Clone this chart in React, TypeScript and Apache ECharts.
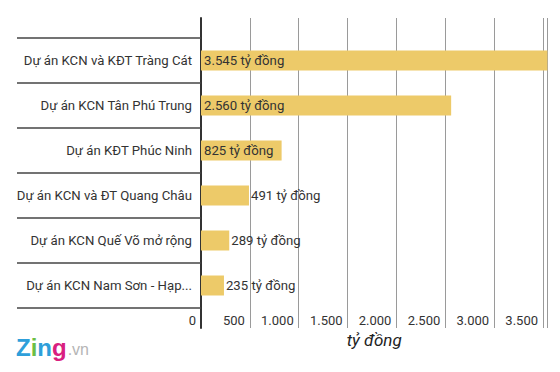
import React, { useEffect, useRef } from "react";
import * as echarts from "echarts";

const categories = [
  "Dự án KCN và KĐT Tràng Cát",
  "Dự án KCN Tân Phú Trung",
  "Dự án KĐT Phúc Ninh",
  "Dự án KCN và ĐT Quang Châu",
  "Dự án KCN Quế Võ mở rộng",
  "Dự án KCN Nam Sơn - Hạp...",
];
const values = [3545, 2560, 825, 491, 289, 235];
const valueLabels = ["3.545 tỷ đồng", "2.560 tỷ đồng", "825 tỷ đồng", "491 tỷ đồng", "289 tỷ đồng", "235 tỷ đồng"];
const insideLabel = [true, true, true, false, false, false];
const tickLabels: Record<number, string> = {
  0: "0", 500: "500", 1000: "1.000", 1500: "1.500", 2000: "2.000", 2500: "2.500", 3000: "3.000", 3500: "3.500",
};

const FONT = "Roboto, 'Noto Sans', sans-serif";

export default function App() {
  const ref = useRef<HTMLDivElement>(null);
  useEffect(() => {
    if (!ref.current) return;
    const chart = echarts.init(ref.current, undefined, { renderer: "svg" });
    const gridLeft = 201;
    const gridRight = 12.6;
    chart.setOption({
      animation: false,
      backgroundColor: "#ffffff",
      textStyle: { fontFamily: FONT },
      grid: [
        { left: gridLeft, right: gridRight, top: 18, height: 310 },
        { left: gridLeft, right: gridRight, top: 38, height: 270 },
      ],
      xAxis: [
        {
          gridIndex: 0, type: "value", min: 0, max: 3545, interval: 500,
          axisLine: { show: false }, axisTick: { show: false }, axisLabel: { show: false },
          splitLine: { show: true, lineStyle: { color: "#9a9a9a", width: 1 } },
        },
        {
          gridIndex: 1, type: "value", min: 0, max: 3545, interval: 500,
          axisLine: { show: false }, axisTick: { show: false },
          splitLine: { show: false },
          axisLabel: {
            show: true, align: "right", padding: [0, 5, 0, 0], margin: 6,
            fontSize: 13, color: "#333", fontFamily: FONT,
            showMaxLabel: false,
            formatter: (v: number) => tickLabels[v] ?? "",
          },
          name: "tỷ đồng", nameLocation: "middle", nameGap: 23,
          nameTextStyle: { fontSize: 17, fontStyle: "italic", color: "#222", fontFamily: FONT },
        },
      ],
      yAxis: [
        {
          gridIndex: 0, type: "category", data: ["a"], inverse: true,
          axisLine: { show: true, lineStyle: { color: "#333", width: 2 } },
          axisTick: { show: false }, axisLabel: { show: false }, splitLine: { show: false },
        },
        {
          gridIndex: 1, type: "category", data: categories, inverse: true,
          axisLine: { show: false },
          axisTick: { show: true, length: 184, lineStyle: { color: "#444", width: 1.5 } },
          axisLabel: { margin: 9, fontSize: 13.2, color: "#333", fontFamily: FONT },
        },
      ],
      series: [
        {
          type: "bar", xAxisIndex: 1, yAxisIndex: 1, barWidth: 20,
          itemStyle: { color: "#EDCA69" },
          data: values.map((v, i) => ({
            value: v,
            label: {
              show: true,
              position: insideLabel[i] ? "insideLeft" : "right",
              distance: insideLabel[i] ? 3 : 2,
              formatter: valueLabels[i],
              fontSize: 13.2, color: "#333", fontFamily: FONT,
            },
          })),
        },
      ],
      graphic: [
        {
          type: "text", left: 16, top: 335,
          style: {
            text: "{z|Z}{i|i}{n|n}{g|g}{v|.vn}",
            rich: {
              z: { fontSize: 24, fontWeight: "bold", fill: "#2E9FDA", fontFamily: "Arial, sans-serif" },
              i: { fontSize: 24, fontWeight: "bold", fill: "#6CBE45", fontFamily: "Arial, sans-serif" },
              n: { fontSize: 24, fontWeight: "bold", fill: "#2E9FDA", fontFamily: "Arial, sans-serif" },
              g: { fontSize: 24, fontWeight: "bold", fill: "#D9207F", fontFamily: "Arial, sans-serif" },
              v: { fontSize: 16, fill: "#b5b5b5", fontFamily: "Arial, sans-serif", padding: [5, 0, 0, 1] },
            },
          },
        },
      ],
    });
    return () => chart.dispose();
  }, []);
  return <div ref={ref} style={{ width: 560, height: 372, position: "absolute", left: 0, top: 0 }} />;
}
